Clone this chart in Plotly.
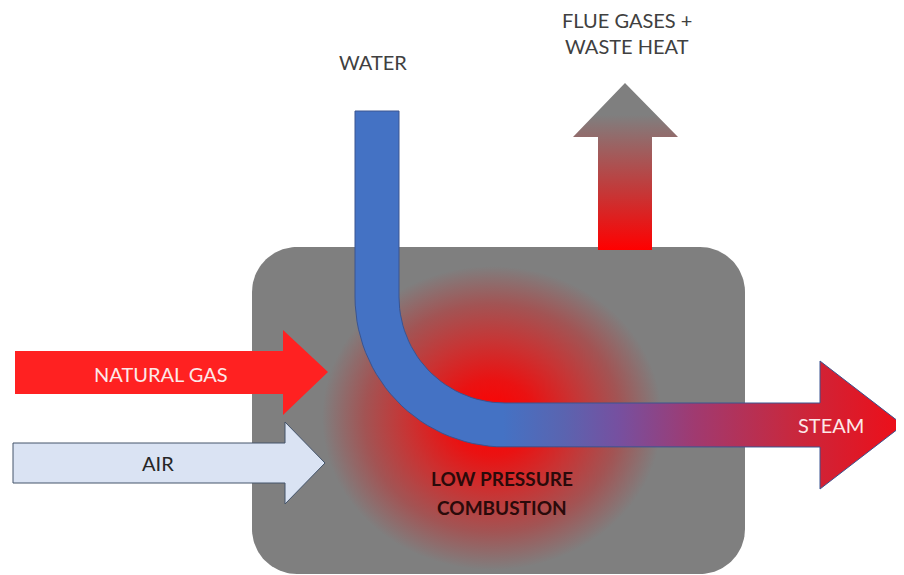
import numpy as np
import plotly.graph_objects as go

# ---- diagram content (labels) ----
label_text = ["WATER", "FLUE GASES +", "WASTE HEAT", "NATURAL GAS", "AIR",
              "STEAM", "LOW PRESSURE", "COMBUSTION"]
label_x = [373, 627, 627, 161, 158, 831, 502, 502]
label_y = [62, 20, 46, 374, 463, 425, 478, 507]
label_color = ["#404040", "#404040", "#404040", "#FCE8E8", "#262626",
               "#FCE8E8", "#2A0A0A", "#2A0A0A"]
label_bold = [False, False, False, False, False, False, True, True]

W, H = 904, 575
OFF = 8  # default page body margin; axes ranges compensate so coords = page pixels
FONT = "Lato"


def arc(cx, cy, r, a0, a1, n=30):
    t = np.radians(np.linspace(a0, a1, n))
    return list(cx + r * np.cos(t)), list(cy + r * np.sin(t))


def rounded_rect(x0, y0, x1, y1, r):
    xs, ys = [], []
    for cx, cy, a0, a1 in [(x0 + r, y0 + r, 180, 270), (x1 - r, y0 + r, 270, 360),
                           (x1 - r, y1 - r, 0, 90), (x0 + r, y1 - r, 90, 180)]:
        ax, ay = arc(cx, cy, r, a0, a1)
        xs += ax
        ys += ay
    return xs + [xs[0]], ys + [ys[0]]


fig = go.Figure()

# furnace box
bx, by = rounded_rect(252, 247, 745, 574, 45)
fig.add_trace(go.Scatter(x=bx, y=by, fill="toself", fillcolor="#7F7F7F",
                         line=dict(width=0), mode="lines", hoverinfo="skip"))

# combustion glow (radial gradient ellipse)
gx, gy = arc(492, 418, 1, 0, 360, 120)
gx = [492 + (v - 492) * 170 for v in gx]
gy = [418 + (v - 418) * 152 for v in gy]
fig.add_trace(go.Scatter(
    x=gx, y=gy, fill="toself", mode="lines", line=dict(width=0), hoverinfo="skip",
    fillgradient=dict(type="radial", colorscale=[
        [0.0, "#FF0000"], [0.25, "#EA1212"], [0.5, "#C83434"],
        [0.75, "#A25454"], [1.0, "#7F7F7F"]])))

# flue gas arrow (up)
fx = [598, 652, 652, 678, 625, 573, 598, 598]
fy = [250, 250, 137, 137, 83, 137, 137, 250]
fig.add_trace(go.Scatter(
    x=fx, y=fy, fill="toself", mode="lines", line=dict(width=0), hoverinfo="skip",
    fillgradient=dict(type="vertical", start=250, stop=115,
                      colorscale=[[0, "#FF0000"], [0.45, "#C23A3A"], [1, "#7F7F7F"]])))

# natural gas arrow
nx = [15, 283, 283, 328, 283, 283, 15, 15]
ny = [351, 351, 330, 372, 415, 394, 394, 351]
fig.add_trace(go.Scatter(x=nx, y=ny, fill="toself", fillcolor="#FF2121",
                         mode="lines", line=dict(width=0), hoverinfo="skip"))

# air arrow
ax_ = [13, 285, 285, 325, 285, 285, 13, 13]
ay_ = [443, 443, 422, 463, 504, 483, 483, 443]
fig.add_trace(go.Scatter(x=ax_, y=ay_, fill="toself", fillcolor="#DAE3F3",
                         mode="lines", line=dict(width=1, color="#44546A"),
                         hoverinfo="skip"))

# water pipe -> steam arrow
px = [355, 399]
py = [111, 111]
ix, iy = arc(505, 297, 106, 180, 90)
px += [399] + ix
py += [297] + iy
px += [820, 820, 903, 820, 820]
py += [403, 361, 425, 489, 447]
ox, oy = arc(505, 297, 150, 90, 180)
px += ox + [355]
py += oy + [111]
fig.add_trace(go.Scatter(
    x=px, y=py, fill="toself", mode="lines",
    line=dict(width=1, color="#3A5490"), hoverinfo="skip",
    fillgradient=dict(type="horizontal", start=355, stop=903, colorscale=[
        [0.0, "#4472C4"], [0.27, "#4472C4"], [0.38, "#5A64B0"],
        [0.48, "#7650A0"], [0.62, "#A03A70"], [0.8, "#C8283E"],
        [1.0, "#EE0E18"]])))

for t, x, y, c, b in zip(label_text, label_x, label_y, label_color, label_bold):
    fig.add_annotation(x=x, y=y, text=f"<b>{t}</b>" if b else t, showarrow=False,
                       xanchor="center", yanchor="middle", borderpad=0,
                       font=dict(family=FONT, size=20 if not b else 19, color=c))

fig.update_layout(
    width=W - OFF, height=H - OFF, margin=dict(l=0, r=0, t=0, b=0),
    paper_bgcolor="white", plot_bgcolor="white", showlegend=False,
    xaxis=dict(range=[OFF, W], visible=False, fixedrange=True),
    yaxis=dict(range=[H, OFF], visible=False, fixedrange=True),
)

fig.write_html("out.html")
